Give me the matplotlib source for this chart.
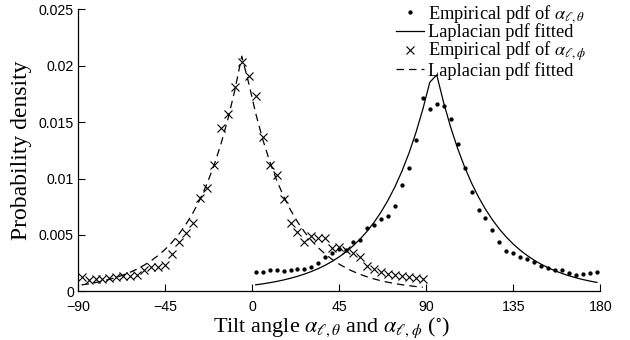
import matplotlib
matplotlib.use("Agg")
import matplotlib.pyplot as plt
from matplotlib.lines import Line2D
import numpy as np

# Histogram bin centres (degrees)
theta_centers = [1.8, 5.4, 9.0, 12.6, 16.2, 19.8, 23.4, 27.0, 30.6, 34.2,
                 37.8, 41.4, 45.0, 48.6, 52.2, 55.8, 59.4, 63.0, 66.6, 70.2,
                 73.8, 77.4, 81.0, 84.6, 88.2, 91.8, 95.4, 99.0, 102.6, 106.2,
                 109.8, 113.4, 117.0, 120.6, 124.2, 127.8, 131.4, 135.0, 138.6, 142.2,
                 145.8, 149.4, 153.0, 156.6, 160.2, 163.8, 167.4, 171.0, 174.6, 178.2]
phi_centers = [-88.2, -84.6, -81.0, -77.4, -73.8, -70.2, -66.6, -63.0, -59.4, -55.8,
               -52.2, -48.6, -45.0, -41.4, -37.8, -34.2, -30.6, -27.0, -23.4, -19.8,
               -16.2, -12.6, -9.0, -5.4, -1.8, 1.8, 5.4, 9.0, 12.6, 16.2,
               19.8, 23.4, 27.0, 30.6, 34.2, 37.8, 41.4, 45.0, 48.6, 52.2,
               55.8, 59.4, 63.0, 66.6, 70.2, 73.8, 77.4, 81.0, 84.6, 88.2]

# Empirical pdf of alpha_theta (x 1e-3)
theta_emp = [1.68, 1.68, 1.90, 1.90, 1.77, 1.90, 1.98, 1.94, 2.15, 2.48,
             3.07, 3.36, 3.76, 3.64, 4.37, 4.58, 5.64, 5.90, 6.37, 6.64,
             7.55, 9.45, 10.90, 13.43, 17.10, 16.16, 16.58, 16.45, 15.31, 13.10,
             10.90, 8.84, 7.22, 6.48, 5.45, 4.41, 3.61, 3.38, 3.03, 2.85,
             2.59, 2.21, 2.03, 1.85, 1.85, 1.59, 1.47, 1.56, 1.65, 1.71]
# Fitted Laplacian pdf of alpha_theta (x 1e-3)
theta_fit = [0.581, 0.667, 0.766, 0.880, 1.011, 1.162, 1.334, 1.532, 1.760, 2.021,
             2.321, 2.666, 3.062, 3.517, 4.039, 4.639, 5.328, 6.119, 7.028, 8.072,
             9.270, 10.647, 12.228, 14.044, 16.130, 18.525, 19.178, 16.698, 14.539, 12.659,
             11.022, 9.597, 8.356, 7.276, 6.335, 5.516, 4.803, 4.182, 3.641, 3.170,
             2.760, 2.403, 2.092, 1.822, 1.586, 1.381, 1.203, 1.047, 0.912, 0.794]

# Empirical pdf of alpha_phi (x 1e-3)
phi_emp = [1.26, 1.03, 1.09, 1.09, 1.18, 1.26, 1.38, 1.38, 1.47, 1.85,
           2.20, 2.20, 2.35, 3.32, 4.41, 5.20, 6.09, 8.24, 9.12, 11.24,
           14.47, 15.68, 18.15, 20.29, 19.05, 17.35, 13.70, 11.24, 10.27, 8.20,
           6.09, 5.30, 4.35, 4.91, 4.71, 4.76, 3.88, 3.94, 3.68, 3.38,
           3.09, 2.26, 1.97, 1.76, 1.53, 1.44, 1.32, 1.24, 1.15, 1.09]
# Fitted Laplacian pdf of alpha_phi (x 1e-3)
phi_fit = [0.570, 0.666, 0.779, 0.911, 1.065, 1.245, 1.456, 1.703, 1.992, 2.329,
           2.724, 3.185, 3.725, 4.356, 5.094, 5.957, 6.966, 8.146, 9.526, 11.140,
           13.027, 15.234, 17.815, 20.834, 18.446, 15.773, 13.488, 11.534, 9.863, 8.434,
           7.212, 6.167, 5.273, 4.509, 3.856, 3.297, 2.819, 2.411, 2.062, 1.763,
           1.508, 1.289, 1.102, 0.942, 0.806, 0.689, 0.589, 0.504, 0.431, 0.368]

x_ticks = [-90, -45, 0, 45, 90, 135, 180]
y_ticks = [0, 0.005, 0.01, 0.015, 0.02, 0.025]
y_ticklabels = ["0", "0.005", "0.01", "0.015", "0.02", "0.025"]

plt.rcParams["mathtext.fontset"] = "stix"
serif = "Liberation Serif"
sans = "Liberation Sans"

fig = plt.figure(figsize=(6.3, 3.4), dpi=100)
ax = fig.add_axes([0.124, 0.143, 0.829, 0.830])

scale = 1e-3
lw = 0.9
ax.plot(theta_centers, np.array(theta_emp) * scale, ls="none", marker="o",
        ms=2.1, color="black", mec="black")
ax.plot(theta_centers, np.array(theta_fit) * scale, ls="-", lw=lw, color="black")
ax.plot(phi_centers, np.array(phi_emp) * scale, ls="none", marker="x",
        ms=5.5, mew=0.8, color="black")
ax.plot(phi_centers, np.array(phi_fit) * scale, ls=(0, (6, 4)), lw=lw, color="black")

ax.set_xlim(-90, 180)
ax.set_ylim(0, 0.025)
ax.set_xticks(x_ticks)
ax.set_xticklabels([str(t).replace("-", "\u2212") for t in x_ticks],
                   fontfamily=sans, fontsize=10.2)
ax.set_yticks(y_ticks)
ax.set_yticklabels(y_ticklabels, fontfamily=sans, fontsize=10.2)
ax.tick_params(axis="x", direction="in", length=5, width=0.8, pad=6)
ax.tick_params(axis="y", direction="in", length=5, width=0.8, pad=3)

for side in ("top", "right"):
    ax.spines[side].set_visible(False)
for side in ("left", "bottom"):
    ax.spines[side].set_linewidth(0.9)

ax.set_xlabel(r"Tilt angle $\alpha_{\ell,\theta}$ and $\alpha_{\ell,\phi}$ ($^{\circ}$)",
              fontfamily=serif, fontsize=16, labelpad=0)
ax.xaxis.set_label_coords(0.485, -0.086)
ax.set_ylabel("Probability density", fontfamily=serif, fontsize=17, labelpad=5)

handles = [
    Line2D([], [], ls="none", marker="o", ms=2.1, color="black"),
    Line2D([], [], ls="-", lw=lw, color="black"),
    Line2D([], [], ls="none", marker="x", ms=5.5, mew=0.8, color="black"),
    Line2D([], [], ls=(0, (6, 4)), lw=lw, color="black"),
]
labels = [r"Empirical pdf of $\alpha_{\ell,\theta}$", "Laplacian pdf fitted",
          r"Empirical pdf of $\alpha_{\ell,\phi}$", "Laplacian pdf fitted"]
leg = fig.legend(handles, labels, loc="upper left", bbox_to_anchor=(0.617, 1.013),
                 frameon=False, prop={"family": serif, "size": 13.2},
                 handlelength=1.5, handletextpad=0.25, labelspacing=-0.08,
                 numpoints=1, borderaxespad=0)

fig.savefig("out.png", dpi=100)
